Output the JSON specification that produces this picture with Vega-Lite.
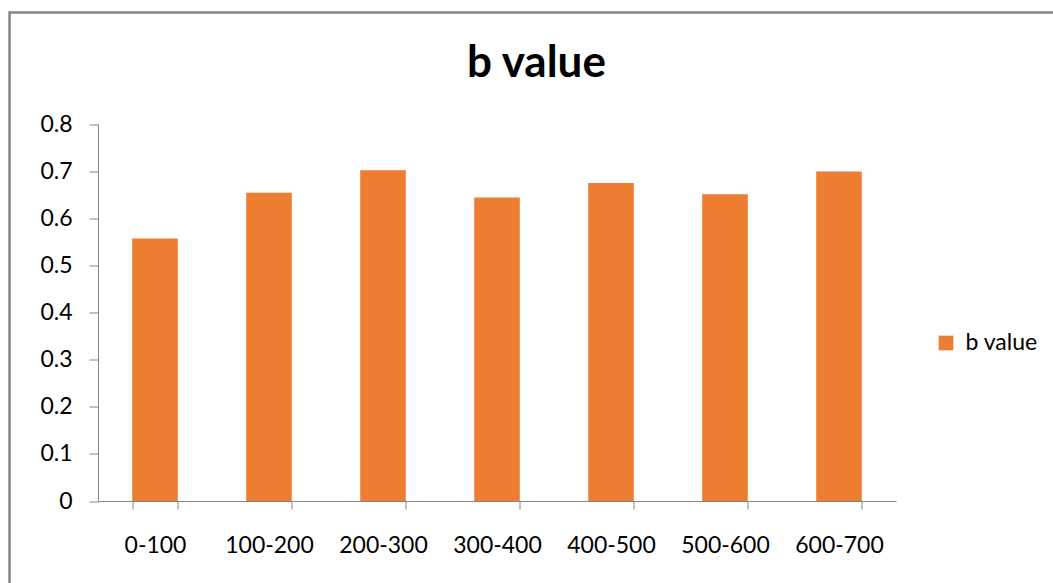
{
  "$schema": "https://vega.github.io/schema/vega-lite/v6.json",
  "autosize": "none",
  "padding": {"left": 9.5, "top": 12.5, "right": 0, "bottom": 0},
  "width": 1060,
  "height": 580,
  "background": "white",
  "title": {
    "text": "b value",
    "font": "Lato",
    "fontSize": 44,
    "fontWeight": "bold",
    "color": "#000000",
    "anchor": "middle",
    "offset": -73,
    "dx": -3
  },
  "data": {
    "values": [
      {"range": "0-100", "b value": 0.557},
      {"range": "100-200", "b value": 0.654},
      {"range": "200-300", "b value": 0.702},
      {"range": "300-400", "b value": 0.644},
      {"range": "400-500", "b value": 0.675},
      {"range": "500-600", "b value": 0.651},
      {"range": "600-700", "b value": 0.699}
    ]
  },
  "mark": {"type": "bar", "color": "#ED7D31"},
  "encoding": {
    "x": {
      "field": "range",
      "type": "nominal",
      "sort": null,
      "scale": {"range": [88.5, 886.5], "paddingInner": 0.6, "paddingOuter": 0.3},
      "axis": {
        "title": null,
        "labelAngle": 0,
        "tickBand": "extent",
        "offset": -91.5,
        "grid": false,
        "domainColor": "#868686",
        "tickColor": "#868686",
        "tickSize": 8,
        "labelPadding": 25,
        "labelFont": "Lato",
        "labelFontSize": 23,
        "labelColor": "#000000"
      }
    },
    "y": {
      "field": "b value",
      "type": "quantitative",
      "scale": {"domain": [0, 0.8], "nice": false, "range": [488.5, 111.5]},
      "axis": {
        "title": null,
        "values": [0, 0.1, 0.2, 0.3, 0.4, 0.5, 0.6, 0.7, 0.8],
        "format": ".1~f",
        "offset": -88.5,
        "grid": false,
        "domainColor": "#868686",
        "tickColor": "#868686",
        "tickSize": 9,
        "labelPadding": 17,
        "labelFont": "Lato",
        "labelFontSize": 23,
        "labelColor": "#000000"
      }
    },
    "color": {
      "datum": "b value",
      "type": "nominal",
      "scale": {"range": ["#ED7D31"]},
      "legend": {
        "title": null,
        "orient": "none",
        "legendX": 925,
        "legendY": 319,
        "symbolType": "square",
        "symbolSize": 216,
        "symbolStrokeWidth": 0,
        "labelOffset": 8,
        "labelFont": "Lato",
        "labelFontSize": 23,
        "labelColor": "#000000"
      }
    }
  },
  "config": {
    "view": {"stroke": "#878787", "strokeWidth": 2.5}
  }
}
